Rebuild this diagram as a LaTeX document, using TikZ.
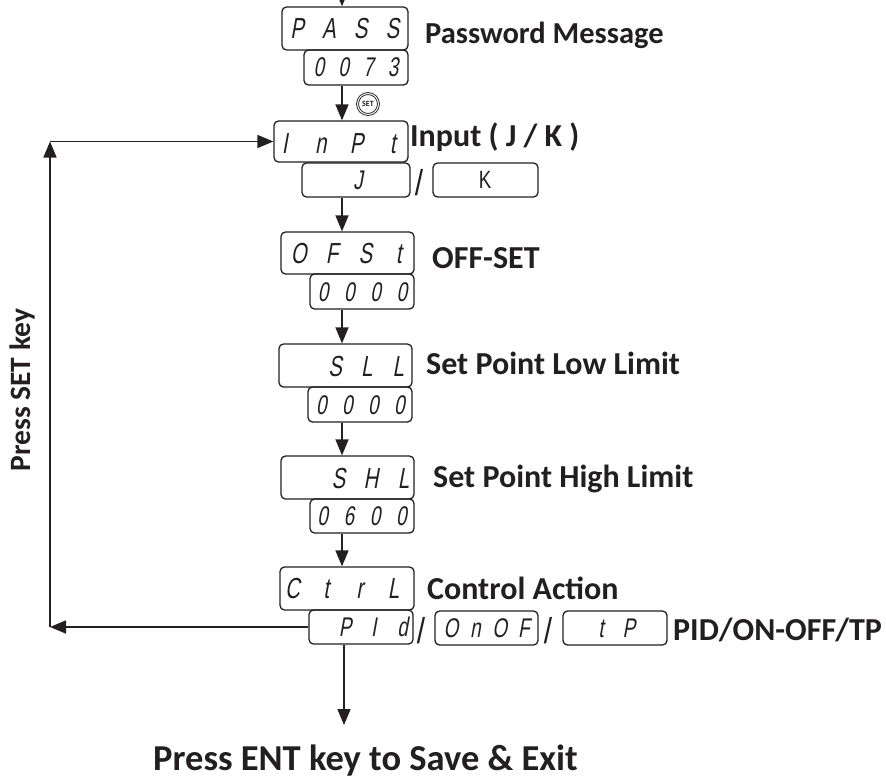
\documentclass[tikz,border=0pt]{standalone}
\usepackage{fontspec}
\setmainfont{Carlito}
\newfontfamily\segf{Liberation Sans}[FakeStretch=0.7,FakeSlant=0.18]
\newfontfamily\slf{Liberation Sans}
\newfontfamily\kf{Liberation Sans}[FakeStretch=0.75]
\usetikzlibrary{arrows.meta}
\definecolor{ink}{HTML}{231F20}
\newlength\cellw
\newcommand\dg[1]{\makebox[\cellw][c]{#1}}
\tikzset{
  disp/.style={draw=ink, line width=1.3pt, rounded corners=4.5pt, inner sep=0pt},
  segbig/.style={text=ink, inner sep=0pt, font=\segf\fontsize{29}{29}\selectfont,
    text height=20.8pt, text depth=0pt, execute at begin node={\setlength\cellw{#1pt}}},
  segsmall/.style={text=ink, inner sep=0pt, font=\segf\fontsize{27}{27}\selectfont,
    text height=19.3pt, text depth=0pt, execute at begin node={\setlength\cellw{#1pt}}},
  slash/.style={text=ink, inner sep=0pt, font=\slf\fontsize{30}{30}\selectfont},
  lab/.style={text=ink, inner sep=0pt, anchor=base west, font=\bfseries\fontsize{32}{36}\selectfont},
  arr/.style={draw=ink, line width=1.6pt, -{Triangle[length=16pt,width=13pt]}},
}
\begin{document}
\begin{tikzpicture}[x=1pt,y=-1pt]
\useasboundingbox (0,0) rectangle (886,780);
\clip (0,0) rectangle (886,780);
% display boxes
\node[disp, minimum width=126pt, minimum height=43pt] (pass) at (345,28.5) {};
\node[disp, minimum width=104pt, minimum height=35pt] (pw) at (356,67.5) {};
\node[disp, minimum width=134pt, minimum height=41pt] (inpt) at (341,141.5) {};
\node[disp, minimum width=108pt, minimum height=34pt] (jbox) at (356,180) {};
\node[disp, minimum width=105pt, minimum height=34pt] (kbox) at (485.5,180) {};
\node[disp, minimum width=133pt, minimum height=42pt] (ofst) at (347.5,253) {};
\node[disp, minimum width=104pt, minimum height=35pt] (ofv) at (362,291.5) {};
\node[disp, minimum width=133pt, minimum height=43pt] (sll) at (345.5,365.5) {};
\node[disp, minimum width=104pt, minimum height=35pt] (sllv) at (360,404.5) {};
\node[disp, minimum width=133pt, minimum height=43pt] (shl) at (347.5,477.5) {};
\node[disp, minimum width=104pt, minimum height=34pt] (shlv) at (362,516) {};
\node[disp, minimum width=134pt, minimum height=43pt] (ctrl) at (347,588.5) {};
\node[disp, minimum width=104pt, minimum height=34pt] (pid) at (361,627) {};
\node[disp, minimum width=103pt, minimum height=34pt] (onof) at (486.5,628) {};
\node[disp, minimum width=104pt, minimum height=34pt] (tp) at (615,628) {};
% display texts
\node[segbig=31.7] (pass-t) at (344.75,28.5) {\dg{P}\dg{A}\dg{S}\dg{S}};
\node[segsmall=24.7] (pw-t) at (356,67) {\dg{0}\dg{0}\dg{7}\dg{3}};
\node[segbig=36] (inpt-t) at (338.75,143) {\dg{I}\dg{n}\dg{P}\dg{t}};
\node[segsmall=12] (j-t) at (358,180) {\dg{J}};
\node[text=ink, inner sep=0pt, font=\kf\fontsize{25}{25}\selectfont] (k-t) at (485,180) {K};
\node[segbig=33.3] (ofst-t) at (348.75,253) {\dg{O}\dg{F}\dg{S}\dg{t}};
\node[segsmall=26.3] (ofv-t) at (362.5,292) {\dg{0}\dg{0}\dg{0}\dg{0}};
\node[segbig=31.5] (sll-t) at (366.7,366) {\dg{S}\dg{L}\dg{L}};
\node[segsmall=26] (sllv-t) at (360.5,405) {\dg{0}\dg{0}\dg{0}\dg{0}};
\node[segbig=32.5] (shl-t) at (371,478) {\dg{S}\dg{H}\dg{L}};
\node[segsmall=26.3] (shlv-t) at (362,516) {\dg{0}\dg{6}\dg{0}\dg{0}};
\node[segbig=33.7] (ctrl-t) at (343,588) {\dg{C}\dg{t}\dg{r}\dg{L}};
\node[segsmall=28.75] (pid-t) at (373.8,627) {\dg{P}\dg{I}\dg{d}};
\node[segsmall=24.3] (onof-t) at (487.5,628) {\dg{O}\dg{n}\dg{O}\dg{F}};
\node[segsmall=28] (tp-t) at (615,628) {\dg{t}\dg{P}};
% slashes
\node[slash] (sl1) at (419,183) {\scalebox{1}[1.2]{/}};
\node[slash] (sl2) at (421,631) {\scalebox{1}[1.2]{/}};
\node[slash] (sl3) at (548,631) {\scalebox{1}[1.2]{/}};
% SET key icon
\node[circle, draw=ink, line width=0.9pt, double, double distance=1pt, minimum size=21pt,
      inner sep=0pt, text=ink, font=\bfseries\fontsize{8}{8}\selectfont] (setk) at (368,104) {SET};
% labels
\node[lab, font=\bfseries\fontsize{30.5}{36}\selectfont] (l-pass) at (425,43) {Password Message};
\node[lab] (l-inpt) at (410,146) {Input ( J / K )};
\node[lab] (l-ofst) at (432,268) {OFF-SET};
\node[lab] (l-sll) at (426,374) {Set Point Low Limit};
\node[lab] (l-shl) at (433,487) {Set Point High Limit};
\node[lab] (l-ctrl) at (427,599) {Control Action};
\node[lab] (l-pid) at (673,640) {PID/ON-OFF/TP};
\node[lab, font=\bfseries\fontsize{36.5}{40}\selectfont] (l-ent) at (153,770.5) {Press ENT key to Save \& Exit};
\node[text=ink, inner sep=0pt, rotate=90, font=\bfseries\fontsize{29.5}{34}\selectfont] (l-set) at (22,390) {Press SET key};
% connectors
\coordinate (ax) at (342,-20);
\coordinate (pend) at (344,725);
\coordinate (lb) at (50,627);
\coordinate (lt) at (50,141.5);
\draw[arr] (ax) -- (ax |- pass.north);
\draw[arr] (pw.south -| ax) -- (inpt.north -| ax);
\draw[arr] (jbox.south -| ax) -- (ofst.north -| ax);
\draw[arr] (ofv.south -| ax) -- (sll.north -| ax);
\draw[arr] (sllv.south -| ax) -- (shl.north -| ax);
\draw[arr] (shlv.south -| ax) -- (ctrl.north -| ax);
\draw[arr] (pid.south -| pend) -- (pend);
\draw[arr] (pid.west) -- (lb);
\draw[arr] (lb) -- (lt);
\draw[arr] (lt) -- (inpt.west);
\end{tikzpicture}
\end{document}
